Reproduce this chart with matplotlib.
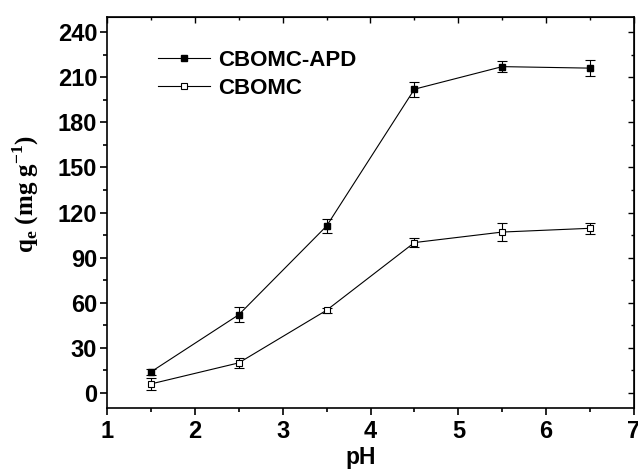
import matplotlib
matplotlib.use("Agg")
import matplotlib.pyplot as plt
from matplotlib.ticker import MultipleLocator
from matplotlib.lines import Line2D

ph = [1.5, 2.5, 3.5, 4.5, 5.5, 6.5]
apd = [14, 52, 111, 202, 217, 216]
apd_err = [2, 5, 4.4, 5, 3.5, 5.4]
cbomc = [6, 20, 55, 100, 107, 109.5]
cbomc_err = [3.9, 3.5, 1.8, 3, 5.9, 3.7]

plt.rcParams['font.family'] = ['Liberation Sans', 'DejaVu Sans']
plt.rcParams['font.weight'] = 'bold'

fig = plt.figure(figsize=(6.38, 4.72), dpi=100)
ax = fig.add_axes([107/638, 1-408/472, (634-107)/638, (408-17)/472])

ax.errorbar(ph, apd, yerr=apd_err, color='black', lw=0.8, marker='s', ms=5,
            mfc='black', mec='black', capsize=3.5, elinewidth=0.8, capthick=0.8)
ax.errorbar(ph, cbomc, yerr=cbomc_err, color='black', lw=0.8, marker='s', ms=5,
            mfc='white', mec='black', mew=0.8, capsize=3.5, elinewidth=0.8, capthick=0.8)

ax.set_xlim(1, 7)
ax.set_ylim(-10, 250)
ax.xaxis.set_major_locator(MultipleLocator(1))
ax.xaxis.set_minor_locator(MultipleLocator(0.5))
ax.yaxis.set_minor_locator(MultipleLocator(15))
ax.set_yticks(range(0, 241, 30))

for s in ax.spines.values():
    s.set_linewidth(1.2)
ax.tick_params(which='major', direction='out', length=5, width=1.2, labelsize=17, pad=2)
ax.tick_params(axis='x', which='major', pad=4)
ax.tick_params(which='minor', direction='out', length=3, width=1.2)
for lab in ax.get_xticklabels() + ax.get_yticklabels():
    lab.set_fontweight('bold')

# mirrored inward ticks on top and right
sx = ax.secondary_xaxis('top')
sx.xaxis.set_major_locator(MultipleLocator(1))
sx.xaxis.set_minor_locator(MultipleLocator(0.5))
sx.tick_params(which='both', direction='in', labeltop=False, width=1.0)
sx.tick_params(which='major', length=4)
sx.tick_params(which='minor', length=2.5)
sy = ax.secondary_yaxis('right')
sy.yaxis.set_major_locator(MultipleLocator(30))
sy.yaxis.set_minor_locator(MultipleLocator(15))
sy.tick_params(which='both', direction='in', labelright=False, width=1.0)
sy.tick_params(which='major', length=4)
sy.tick_params(which='minor', length=2.5)

ax.set_xlabel('pH', fontsize=16.5, fontweight='bold')
ax.xaxis.set_label_coords(0.482, -0.098)
ax.set_ylabel(r'q$_{\mathregular{e}}$ (mg g$^{\mathregular{-1}}$)', fontsize=18,
              fontweight='bold', family=['Liberation Serif', 'DejaVu Serif'])
ax.yaxis.set_label_coords(-0.125, 0.547)

h1 = Line2D([], [], color='black', lw=0.8, marker='s', ms=5, mfc='black', mec='black')
h2 = Line2D([], [], color='black', lw=0.8, marker='s', ms=5, mfc='white', mec='black', mew=0.8)
leg = ax.legend([h1, h2], ['CBOMC-APD', 'CBOMC'], loc='upper left',
                bbox_to_anchor=(0.097, 0.915), frameon=False,
                fontsize=16, handlelength=2.35, handletextpad=0.35, labelspacing=0.3,
                borderaxespad=0, borderpad=0)
for t in leg.get_texts():
    t.set_fontweight('bold')

fig.savefig('out.png', dpi=100)
